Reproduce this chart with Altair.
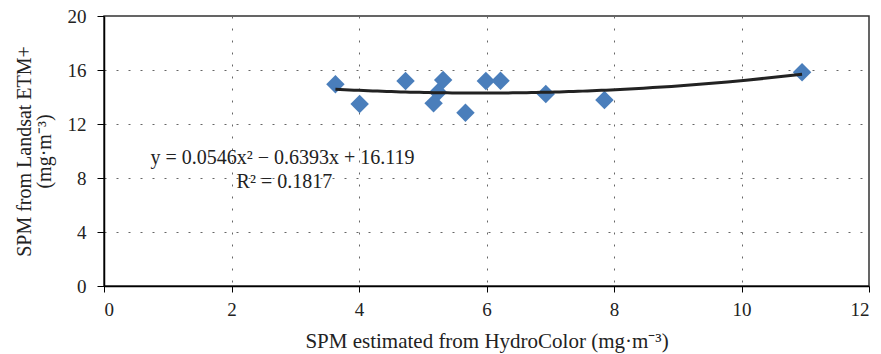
import altair as alt
import pandas as pd

# Data
hydrocolor = [3.63, 4.01, 4.73, 5.32, 5.24, 5.17, 5.67, 5.99, 6.22, 6.93, 7.85, 10.95]
landsat = [14.94, 13.48, 15.19, 15.26, 14.35, 13.53, 12.84, 15.19, 15.21, 14.22, 13.78, 15.83]

eq_lines = ["y = 0.0546x² − 0.6393x + 16.119", "R² = 0.1817"]
eq_x = [2.8, 2.83]
eq_y = [9.45, 7.7]

x_ticks = [0, 2, 4, 6, 8, 10, 12]
y_ticks = [0, 4, 8, 12, 16, 20]

df = pd.DataFrame({"x": hydrocolor, "y": landsat})
df_eq = pd.DataFrame({"t": eq_lines, "x": eq_x, "y": eq_y})

FONT = "Liberation Serif"

xscale = alt.Scale(domain=[0, 12], nice=False, zero=False)
yscale = alt.Scale(domain=[0, 20], nice=False, zero=False)

x_axis = alt.Axis(
    values=x_ticks, format="d", title="SPM estimated from HydroColor (mg·m⁻³)",
    grid=True, gridDash=[2, 10], gridColor="#666", gridWidth=1,
    domainColor="#000", domainWidth=1.5, tickColor="#000", tickSize=6,
    labelFont=FONT, labelFontSize=19, labelColor="#222", labelPadding=8,
    titleFont=FONT, titleFontSize=21, titleFontWeight="normal", titleColor="#222",
    titlePadding=11,
)
y_axis = alt.Axis(
    values=y_ticks, format="d", title=["SPM from Landsat ETM+", "(mg·m⁻³)"],
    grid=True, gridDash=[2, 10], gridColor="#666", gridWidth=1,
    domainColor="#000", domainWidth=1.5, tickColor="#000", tickSize=7,
    labelFont=FONT, labelFontSize=19, labelColor="#222", labelPadding=11,
    titleFont=FONT, titleFontSize=20, titleFontWeight="normal", titleColor="#222",
    titlePadding=13, titleLineHeight=20,
)

base = alt.Chart(df)

points = base.mark_point(shape="diamond", filled=True, size=340, color="#4a7ebb", opacity=1).encode(
    x=alt.X("x:Q", scale=xscale, axis=x_axis),
    y=alt.Y("y:Q", scale=yscale, axis=y_axis),
)

trend = base.transform_regression("x", "y", method="poly", order=2).mark_line(
    color="#222", strokeWidth=3
).encode(
    x=alt.X("x:Q", scale=xscale),
    y=alt.Y("y:Q", scale=yscale),
)

eq = alt.Chart(df_eq).mark_text(font=FONT, fontSize=20, color="#222", align="center").encode(
    x=alt.X("x:Q", scale=xscale),
    y=alt.Y("y:Q", scale=yscale),
    text="t:N",
)

chart = alt.layer(points, trend, eq).properties(
    width=765, height=270,
    autosize=alt.AutoSizeParams(type="none"),
    padding={"left": 104, "top": 16, "right": 12, "bottom": 68},
    background="white",
).configure_view(stroke="#333", strokeWidth=1.5)

chart.save("out.html", embed_options={"renderer": "svg", "actions": False})
